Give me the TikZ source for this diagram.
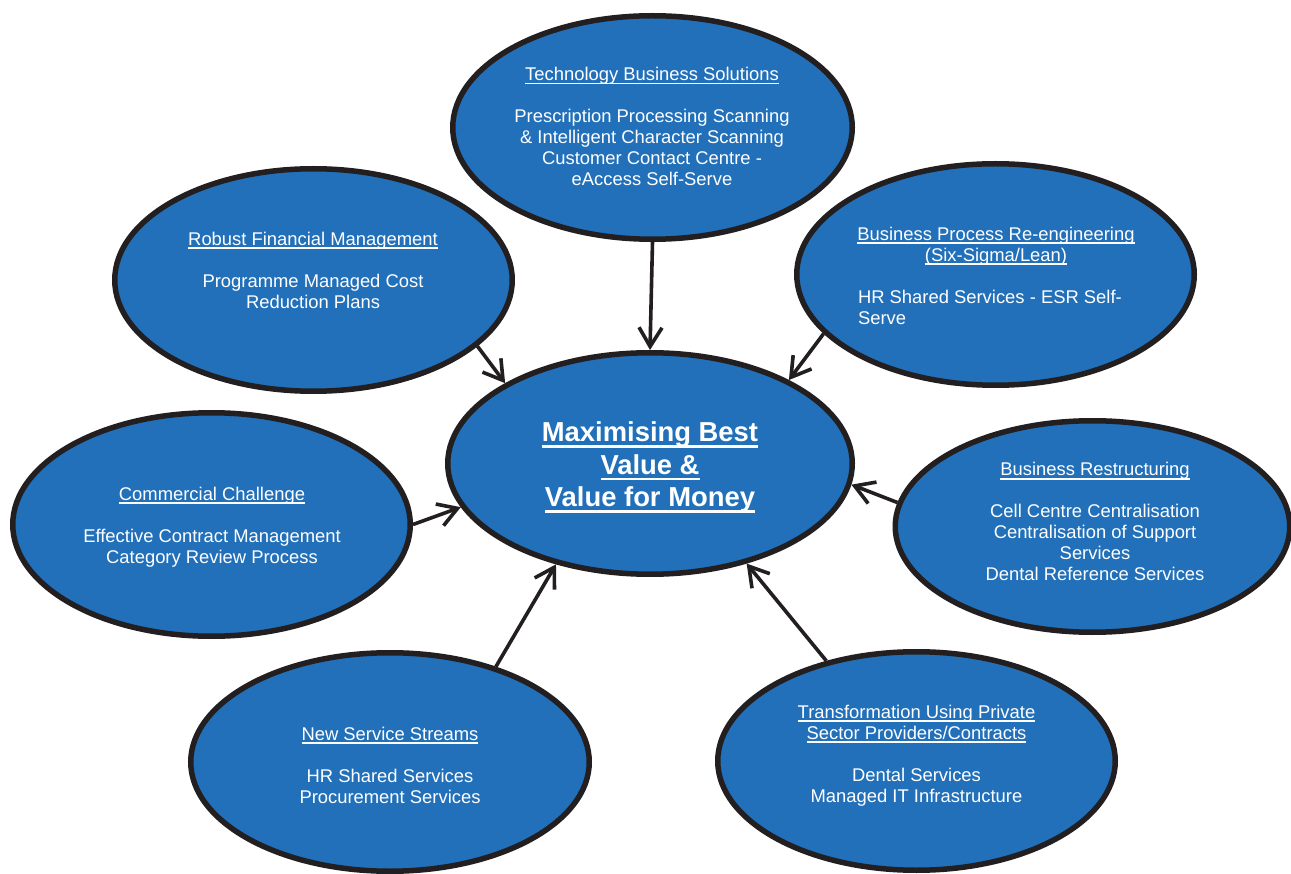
\documentclass[tikz,border=0pt]{standalone}
\usepackage{fontspec}
\setmainfont{Liberation Sans}
\usetikzlibrary{arrows.meta,shapes.geometric}
\definecolor{blobblue}{RGB}{33,112,185}
\definecolor{blobline}{RGB}{35,31,32}
\newcommand\myul[1]{\setbox0=\hbox{#1}\makebox[0pt][l]{\rule[-3.8pt]{\wd0}{1.6pt}}\box0}
\newcommand\myulb[1]{\setbox0=\hbox{#1}\makebox[0pt][l]{\rule[-6pt]{\wd0}{2.7pt}}\box0}
\begin{document}
\begin{tikzpicture}[x=1pt,y=-1pt,
  blob/.style={ellipse, draw=blobline, line width=5.5pt, fill=blobblue, inner sep=0pt},
  txt/.style={text=white, align=center, inner sep=0pt, anchor=north, font=\fontsize{18.4}{21}\selectfont},
  bigtxt/.style={text=white, align=center, inner sep=0pt, anchor=north, font=\fontsize{27.4}{32.5}\selectfont\bfseries},
  conn/.style={draw=blobline, line width=3.6pt, -{Straight Barb[length=19pt,width=23pt]}}]
\useasboundingbox[fill=white] (0,0) rectangle (1291,874);

\node[blob, minimum width=399.5pt, minimum height=223.5pt] (T) at (652.5,127.5) {};
\node[blob, minimum width=397.5pt, minimum height=222.5pt] (R) at (313.5,280) {};
\node[blob, minimum width=397.5pt, minimum height=221.5pt] (BP) at (995.5,274.5) {};
\node[blob, minimum width=404.5pt, minimum height=221.5pt] (C) at (650,463.5) {};
\node[blob, minimum width=397.5pt, minimum height=223.5pt] (CC) at (211.5,524.5) {};
\node[blob, minimum width=394.5pt, minimum height=211.5pt] (BR) at (1092.5,526.5) {};
\node[blob, minimum width=398.5pt, minimum height=218.5pt] (NS) at (390,762) {};
\node[blob, minimum width=397.5pt, minimum height=218.5pt] (TR) at (916.5,761) {};

\node[txt] (Tt) at (652,65.8) {\strut\myul{Technology Business Solutions}\\[21pt]
  Prescription Processing Scanning\\ \& Intelligent Character Scanning\\
  Customer Contact Centre -\\ eAccess Self-Serve};
\node[txt] (Rt) at (313,230.3) {\strut\myul{Robust Financial Management}\\[21pt]
  Programme Managed Cost\\ Reduction Plans};
\node[txt] (BPt) at (996,225.3) {\strut\myul{Business Process Re-engineering}\\
  \myul{(Six-Sigma/Lean)}\\[21pt]
  \makebox[276pt][l]{HR Shared Services - ESR Self-}\\ \makebox[276pt][l]{Serve}};
\node[bigtxt] (Ct) at (650,418.95) {\strut\myulb{Maximising Best}\\ \myulb{Value \&}\\
  \myulb{Value for Money}};
\node[txt] (CCt) at (212,485.3) {\strut\myul{Commercial Challenge}\\[21pt]
  Effective Contract Management\\ Category Review Process};
\node[txt] (BRt) at (1095,460.8) {\strut\myul{Business Restructuring}\\[21pt]
  Cell Centre Centralisation\\ Centralisation of Support\\ Services\\
  Dental Reference Services};
\node[txt] (NSt) at (390,725.3) {\strut\myul{New Service Streams}\\[21pt]
  HR Shared Services\\ Procurement Services};
\node[txt] (TRt) at (916.5,703.3) {\strut\myul{Transformation Using Private}\\
  \myul{Sector Providers/Contracts}\\[21pt]
  Dental Services\\ Managed IT Infrastructure};

\draw[conn] (T.-90) -- (C.90);
\draw[conn] (R.-22.2) -- (C.151);
\draw[conn] (BP.-161.3) -- (C.31.2);
\draw[conn] (CC.0) -- (C.-167);
\draw[conn] (BR.173.6) -- (C.-6.6);
\draw[conn] (NS.42) -- (C.-133.1);
\draw[conn] (TR.132.8) -- (C.-46.6);
\end{tikzpicture}
\end{document}
